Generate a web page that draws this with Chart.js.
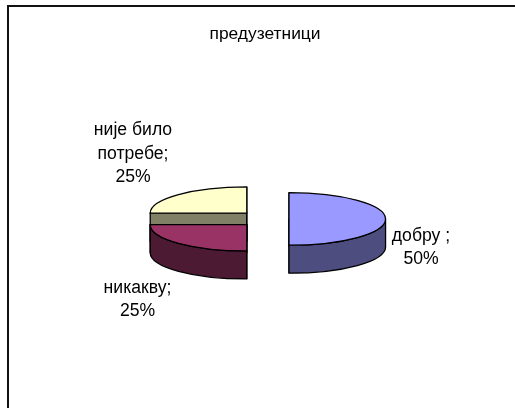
<!DOCTYPE html>
<html>
<head>
<meta charset="utf-8">
<style>
  html, body { margin: 0; padding: 0; background: #fff; }
  canvas { display: block; }
</style>
<script src="https://cdn.jsdelivr.net/npm/chart.js@4/dist/chart.umd.min.js"></script>
</head>
<body>
<canvas id="myChart" width="515" height="408"></canvas>
<script>
const chartTitle = "предузетници";
const categories = ["добру", "никакву", "није било потребе"];
const shares = [50, 25, 25];
const labelLines = [
  ["добру ;", "50%"],
  ["никакву;", "25%"],
  ["није било", "потребе;", "25%"],
];

const sliceColors = ["#9999ff", "#993366", "#ffffcc"];
const sideColors = ["#4d4d80", "#4d1a33", "#808066"];
const sliceOffsets = [21, 30, 30];
const labelPos = [
  [421, 236],
  [137.5, 288],
  [133, 130.5],
];

const FONT = '17.6px "Liberation Sans", Arial, sans-serif';
const SQUASH = 0.272;
const DEPTH = 28;

// frame of the chart, only top and left are visible in the picture
const framePlugin = {
  id: "frame",
  beforeDraw(chart) {
    const ctx = chart.ctx;
    ctx.save();
    ctx.strokeStyle = "#111";
    ctx.lineWidth = 2;
    ctx.beginPath();
    ctx.moveTo(8, 408);
    ctx.lineTo(8, 6);
    ctx.lineTo(515, 6);
    ctx.stroke();
    ctx.restore();
  },
  // the title sits a little left of the pie centre
  afterLayout(chart) {
    chart.titleBlock.left -= 3;
    chart.titleBlock.right -= 3;
  },
};

function slicePath(ctx, cx, cy, r, a0, a1) {
  ctx.beginPath();
  ctx.ellipse(cx, cy, r, r * SQUASH, 0, a0, a1);
  ctx.lineTo(cx, cy);
  ctx.closePath();
}

// the arcs keep their angles from the pie controller, only the drawing is tilted
function drawSlice(ctx, arc, i) {
  const r = arc.outerRadius;
  const mid = (arc.startAngle + arc.endAngle) / 2;
  const off = arc.options.offset;
  const cx = arc.x + Math.cos(mid) * off;
  const cy = arc.y + Math.sin(mid) * off * SQUASH;
  const side = sideColors[i];
  ctx.strokeStyle = "#000";
  ctx.lineWidth = 1.3;

  // flat cut faces
  [arc.startAngle, arc.endAngle].forEach((a) => {
    const ex = cx + Math.cos(a) * r;
    const ey = cy + Math.sin(a) * r * SQUASH;
    ctx.beginPath();
    ctx.moveTo(cx, cy);
    ctx.lineTo(ex, ey);
    ctx.lineTo(ex, ey + DEPTH);
    ctx.lineTo(cx, cy + DEPTH);
    ctx.closePath();
    ctx.fillStyle = side;
    ctx.fill();
    ctx.stroke();
  });

  // outer wall, only the part that faces the viewer
  const from = Math.max(arc.startAngle, 0);
  const to = Math.min(arc.endAngle, Math.PI);
  if (to > from) {
    ctx.beginPath();
    ctx.ellipse(cx, cy, r, r * SQUASH, 0, from, to);
    ctx.ellipse(cx, cy + DEPTH, r, r * SQUASH, 0, to, from, true);
    ctx.closePath();
    ctx.fillStyle = side;
    ctx.fill();
    ctx.stroke();
  }

  slicePath(ctx, cx, cy, r, arc.startAngle, arc.endAngle);
  ctx.fillStyle = arc.options.backgroundColor;
  ctx.fill();
  ctx.stroke();
}

const tiltPlugin = {
  id: "tilt",
  beforeDatasetDraw(chart) {
    const ctx = chart.ctx;
    const arcs = chart.getDatasetMeta(0).data;
    ctx.save();
    // back slices first
    [2, 1, 0].forEach((i) => drawSlice(ctx, arcs[i], i));
    ctx.restore();

    ctx.save();
    ctx.font = FONT;
    ctx.fillStyle = "#000";
    ctx.textAlign = "center";
    ctx.textBaseline = "middle";
    labelLines.forEach((lines, i) => {
      lines.forEach((line, k) => {
        ctx.fillText(line, labelPos[i][0], labelPos[i][1] + k * 23.5);
      });
    });
    ctx.restore();
    return false;
  },
};

const ctx = document.getElementById("myChart").getContext("2d");
const myChart = new Chart(ctx, {
  type: "pie",
  data: {
    labels: categories,
    datasets: [
      {
        data: shares,
        backgroundColor: sliceColors,
        offset: sliceOffsets,
        borderWidth: 1,
      },
    ],
  },
  options: {
    responsive: false,
    animation: false,
    layout: {
      padding: { left: 155.5, right: 134.5, top: 0, bottom: 77 },
    },
    plugins: {
      legend: { display: false },
      tooltip: { enabled: false },
      title: {
        display: true,
        text: chartTitle,
        color: "#000",
        font: { family: '"Liberation Sans", Arial, sans-serif', size: 17.4, weight: "normal" },
        padding: { top: 24, bottom: 62 },
      },
    },
  },
  plugins: [framePlugin, tiltPlugin],
});
</script>
</body>
</html>
